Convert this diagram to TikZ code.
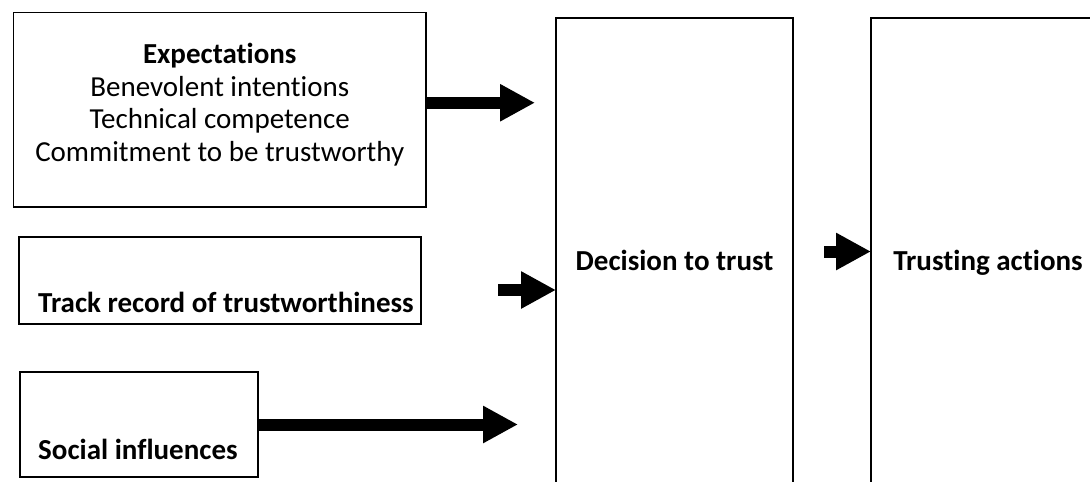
\documentclass[tikz,border=0pt]{standalone}
\usepackage{fontspec}
\setmainfont{Carlito}[Ligatures=CommonOff]
\usetikzlibrary{arrows.meta,calc}

\begin{document}
\begin{tikzpicture}[x=1pt, y=-1pt, every node/.style={font=\fontsize{29}{32.7}\selectfont}]
\tikzset{box/.style={draw, line width=1.3pt, inner sep=0pt, outer sep=0pt}}
\tikzset{txt/.style={inner sep=0pt, anchor=base, font=\fontsize{29}{32.7}\selectfont\bfseries}}
\tikzset{arrow/.style={-{Triangle[length=35pt, width=35pt]}, line width=12pt}}
\path[use as bounding box] (0,0) rectangle (1090,482);
\clip (0,0) rectangle (1090,482);
% boxes on the left
\node[box, minimum width=412.5pt, minimum height=194.5pt] (expect) at (219.75,109.75) {};
\node[box, minimum width=402pt, minimum height=87pt] (track) at (220,280.5) {};
\node[box, minimum width=238pt, minimum height=105pt] (social) at (139,424.5) {};
% tall boxes, cut by the page edge
\node[box, minimum width=237pt, minimum height=467pt] (decision) at (674.5,251.5) {};
\node[box, minimum width=234pt, minimum height=467pt] (acts) at (988,251.5) {};
% texts
\node[inner sep=0pt, anchor=north, align=center] (expecttxt) at (219.75,43) {\textbf{Expectations}\\Benevolent intentions\\Technical competence\\Commitment to be trustworthy};
\node[txt, anchor=base west] (tracktxt) at (38,312) {Track record of trustworthiness};
\node[txt, anchor=base west] (socialtxt) at (38,459) {Social influences};
\node[txt] (decisiontxt) at (674.5,270) {Decision to trust};
\node[txt] (actstxt) at (988,270) {Trusting actions};
% block arrows
\draw[arrow] ([yshift=7pt]expect.east) -- ([xshift=-21pt,yshift=7pt]expect.east -| decision.west);
\draw[arrow] ([xshift=77pt,yshift=-9.5pt]track.east) -- ([yshift=-9.5pt]track.east -| decision.west);
\draw[arrow] (social.east) -- ([xshift=-38pt]social.east -| decision.west);
\draw[arrow] ([xshift=31pt]decision.east) -- (acts.west);
\end{tikzpicture}
\end{document}
